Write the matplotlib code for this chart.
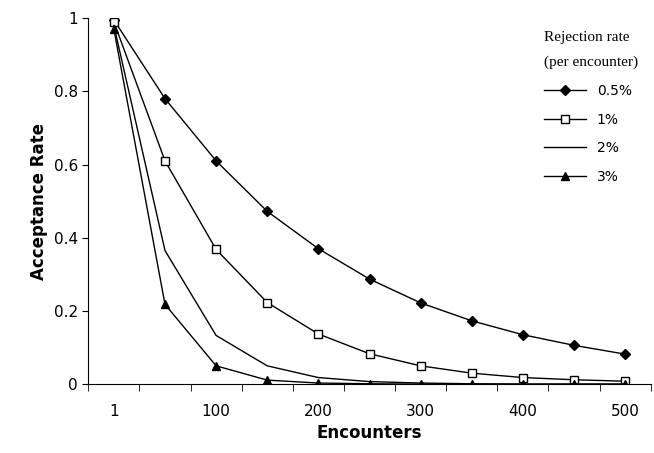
import matplotlib
matplotlib.use("Agg")
import matplotlib.pyplot as plt
import numpy as np

categories = ["1","50","100","150","200","250","300","350","400","450","500"]
r05 = [0.995,0.78,0.61,0.472,0.37,0.287,0.222,0.173,0.135,0.106,0.082]
r1  = [0.99,0.61,0.368,0.223,0.137,0.083,0.05,0.03,0.018,0.012,0.008]
r2  = [0.98,0.365,0.133,0.05,0.018,0.007,0.003,0.001,0.0,0.0,0.0]
r3  = [0.97,0.218,0.05,0.011,0.003,0.001,0.0,0.0,0.0,0.0,0.0]
tick_labels = ["1","100","200","300","400","500"]

fig = plt.figure(figsize=(6.54,4.53), dpi=100)
ax = fig.add_axes([0.135, 0.152, 0.86, 0.808])
x = np.arange(len(categories))
ax.plot(x, r05, '-D', color='black', lw=1, ms=5, label='0.5%')
ax.plot(x, r1, '-s', color='black', mfc='white', lw=1, ms=6, label='1%')
ax.plot(x, r2, '-', color='black', lw=1, label='2%')
ax.plot(x, r3, '-^', color='black', lw=1, ms=6, label='3%')
ax.set_xlim(-0.5, 10.5)
ax.set_ylim(0, 1)
ax.set_xticks(x[::2])
ax.set_xticklabels(tick_labels, fontsize=11)
ax.set_xticks(np.arange(-0.5, 10.6, 1), minor=True)
ax.tick_params(axis='x', which='major', length=0, pad=14)
ax.tick_params(axis='x', which='minor', length=5, direction='out')
ax.set_yticks([0,0.2,0.4,0.6,0.8,1])
ax.set_yticklabels(["0","0.2","0.4","0.6","0.8","1"], fontsize=11)
ax.tick_params(axis='y', length=4, direction='out')
for s in ['top','right']:
    ax.spines[s].set_visible(False)
ax.set_xlabel("Encounters", fontsize=12, fontweight='bold', labelpad=4)
ax.set_ylabel("Acceptance Rate", fontsize=12, fontweight='bold')
leg = ax.legend(loc='upper right', bbox_to_anchor=(1.0, 1.0), frameon=False,
                title="Rejection rate\n(per encounter)", fontsize=10,
                handlelength=3, labelspacing=1.05, alignment='left')
leg.get_title().set_family('Liberation Serif')
leg.get_title().set_fontsize(11)
leg.get_title().set_linespacing(2.2)
fig.savefig("out.png", dpi=100)
